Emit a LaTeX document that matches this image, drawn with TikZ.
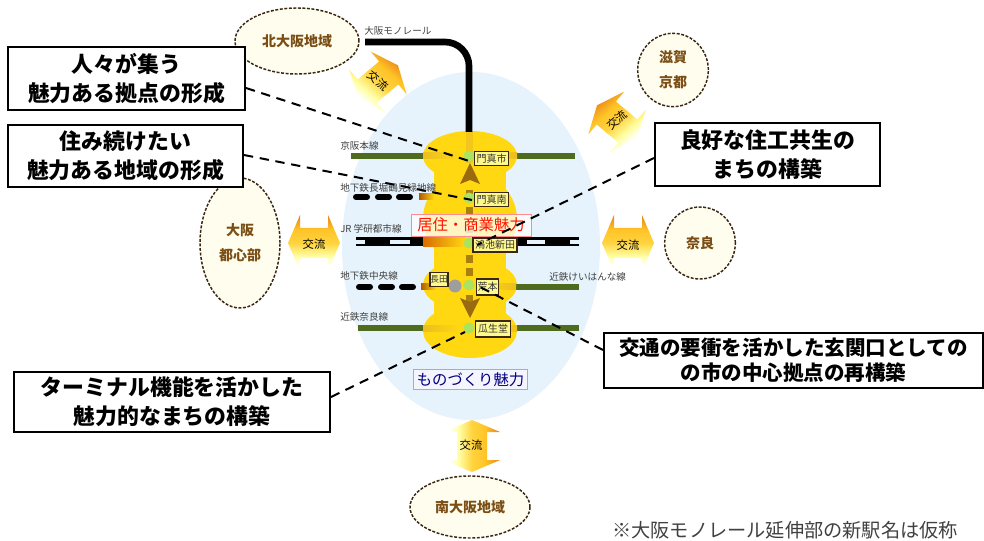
\documentclass[tikz,border=0pt]{standalone}
\usepackage{fontspec}
\setmainfont{Noto Sans CJK JP}
\usetikzlibrary{shapes.geometric}
\definecolor{skyfill}{HTML}{E6F3FC}
\definecolor{blobyellow}{HTML}{FFD812}
\definecolor{linegreen}{HTML}{4F6B1E}
\definecolor{ovalfill}{HTML}{FFFDEE}
\definecolor{ovaltext}{HTML}{7A4E14}
\definecolor{arrowbrown}{HTML}{9A6A10}
\definecolor{stationgreen}{HTML}{ABE25F}
\pgfdeclareverticalshading{koryushade}{100bp}{color(0bp)=(white); color(30bp)=(white); color(38bp)=(yellow!35); color(50bp)=(yellow!55!orange!75); color(62bp)=(orange!55!yellow!85); color(75bp)=(orange!65!brown); color(100bp)=(orange!65!brown)}
\tikzset{
	callout/.style={draw=black,line width=1.5pt,fill=white,align=center,font=\fontsize{16.4}{22}\selectfont\bfseries,inner sep=0pt},
	region/.style={ellipse,draw=black!70!brown,dash pattern=on 2.2pt off 1.2pt,line width=1.1pt,fill=ovalfill,align=center,text=ovaltext,inner sep=0pt,font=\fontsize{10.5}{19}\selectfont\bfseries},
	station/.style={draw=black!70!brown,line width=.8pt,fill=yellow!45,font=\fontsize{7.5}{8}\selectfont,inner sep=0pt,text=black!80},
	linelabel/.style={anchor=west,font=\fontsize{7.2}{8}\selectfont,text=black!75,inner sep=0pt},
	leader/.style={line width=1.5pt,dash pattern=on 7pt off 5pt},
	koryutext/.style={font=\fontsize{8.5}{9}\selectfont,inner sep=0pt},
}
% block arrow with two heads: x, y, rotation
\newcommand\koryu[3]{%
	\begin{scope}[shift={(#1,#2)},rotate=#3]
		\shade[shading=koryushade,shading angle=-#3]
			(-26,0) -- (-14,-28) -- (-14,-15) -- (14,-15) -- (14,-28) -- (26,0) -- (14,28) -- (14,15) -- (-14,15) -- (-14,28) -- cycle;
	\end{scope}
}
% rail segment that fades on the yellow
\newcommand\fadeband[5]{%
	\shade[left color=#4,right color=#5] (#1,#3-3) rectangle (#2,#3+3);
}
\begin{document}
\begin{tikzpicture}[x=0.75pt,y=-0.75pt]
	\useasboundingbox (0,0) rectangle (984,541);

	%% background
	\fill[skyfill] (471,246) ellipse (129 and 174);

	\fill[blobyellow] (470,156) ellipse (47 and 25);
	\fill[blobyellow] (470,219) ellipse (47 and 46);
	\fill[blobyellow] (470,285) ellipse (47 and 26);
	\fill[blobyellow] (470,331) ellipse (47 and 27);
	\fill[blobyellow] (434,156) rectangle (506,331);

	%% monorail
	\draw[line width=5pt] (365,42) -- (445,42) arc (-90:0:24) -- (469,132);
	\fill[blobyellow!80!brown] (466,132) rectangle (473,163);
	\foreach \y in {190,207,225,255,268,295} {
		\fill[arrowbrown!85!yellow] (466,\y) rectangle (473,\y+8);
	}
	\fill[arrowbrown] (470,163) -- (480,184) -- (470,180) -- (460,184) -- cycle;
	\fill[arrowbrown] (470,318) -- (480,298) -- (470,302) -- (460,298) -- cycle;

	%% rail lines
	\draw[linegreen,line width=4pt] (351,156) -- (423,156);
	\draw[linegreen,line width=4pt] (517,156) -- (575,156);
	\fadeband{423}{460}{156}{blobyellow!70!brown}{blobyellow}
	\fadeband{480}{517}{156}{blobyellow}{blobyellow!70!brown}

	\foreach \x in {354,376,397} {
		\draw[line width=4.5pt,line cap=round] (\x+2,197) -- (\x+13,197);
	}
	\fadeband{419}{434}{197}{orange!70!black}{blobyellow}

	\fill (356,237.5) rectangle (423,240);
	\fill (356,244) rectangle (423,246.5);
	\fill (365,237.5) rectangle (390,246.5);
	\fill (410,237.5) rectangle (423,246.5);
	\fill (517,237.5) rectangle (579,240);
	\fill (517,244) rectangle (579,246.5);
	\fill (517,237.5) rectangle (527,246.5);
	\fill (545,237.5) rectangle (570,246.5);
	\shade[left color=orange!85!black,right color=blobyellow] (423,237.5) rectangle (465,246.5);

	\foreach \x in {357,379,400} {
		\draw[line width=4.5pt,line cap=round] (\x+2,287) -- (\x+13,287);
	}
	\fadeband{421}{436}{287}{orange!70!black}{blobyellow}
	\draw[linegreen,line width=4pt] (516,287) -- (579,287);
	\fadeband{478}{516}{287}{blobyellow}{blobyellow!70!brown}

	\draw[linegreen,line width=4pt] (358,328) -- (423,328);
	\draw[linegreen,line width=4pt] (517,328) -- (579,328);
	\fadeband{423}{460}{328}{blobyellow!70!brown}{blobyellow}
	\fadeband{500}{517}{328}{blobyellow}{blobyellow!70!brown}

	%% stations
	\foreach \y in {156,198,243,285,328} {
		\fill[stationgreen] (469,\y) circle (5.5);
	}
	\fill[black!38] (455,286) circle (6.5);

	\node[station,minimum width=26pt,minimum height=11pt] (monma) at (491.5,158.5) {門真市};
	\node[station,minimum width=26pt,minimum height=10pt] (monmaminami) at (491.5,199.5) {門真南};
	\node[station,minimum width=33pt,minimum height=10.5pt] (konoike) at (495,245) {鴻池新田};
	\node[station,minimum width=17pt,minimum height=12pt] (aramoto) at (487.5,287) {荒本};
	\node[station,minimum width=26pt,minimum height=12pt] (uryudo) at (493,329) {瓜生堂};
	\node[station,minimum width=13.5pt,minimum height=10pt,font=\fontsize{6.5}{7}\selectfont] (nagata) at (439,279.5) {長田};

	%% line names
	\node[linelabel] (lblKeihan) at (340,146) {京阪本線};
	\node[linelabel] (lblTsurumi) at (340,188) {地下鉄長堀鶴見緑地線};
	\node[linelabel] (lblJR) at (340,229) {JR 学研都市線};
	\node[linelabel] (lblChuo) at (340,276) {地下鉄中央線};
	\node[linelabel] (lblKeihanna) at (549,277) {近鉄けいはんな線};
	\node[linelabel] (lblNara) at (340,317) {近鉄奈良線};
	\node[linelabel] (lblMono) at (364,31) {大阪モノレール};

	%% attraction labels
	\node[draw=red!45,line width=.6pt,fill=white,fill opacity=.75,text opacity=1,minimum width=90pt,minimum height=16.5pt,inner sep=0pt,text=red!85!orange,font=\fontsize{11.5}{12}\selectfont] (living) at (471,225) {居住・商業魅力};
	\node[draw=black!30!blue!35,line width=.8pt,fill=blue!4,minimum width=85pt,minimum height=15.5pt,inner sep=0pt,text=blue!50!black,font=\fontsize{11.5}{12}\selectfont] (making) at (470.5,379.5) {ものづくり魅力};

	%% neighbouring regions
	\node[region,minimum width=93pt,minimum height=49.5pt] (kita) at (297,41) {北大阪地域};
	\node[region,minimum width=60pt,minimum height=97.5pt] (toshin) at (240,243) {大阪\\都心部};
	\node[region,minimum width=53pt,minimum height=55pt] (shiga) at (673,70) {滋賀\\京都};
	\node[region,minimum width=53pt,minimum height=54pt] (nara) at (700,243) {奈良};
	\node[region,minimum width=90pt,minimum height=46.5pt] (minami) at (470,507) {南大阪地域};

	\koryu{378}{82}{40}
	\koryu{617}{122}{-40}
	\koryu{314}{243}{0}
	\koryu{628}{243}{0}
	\koryu{472}{446}{90}

	\node[koryutext,rotate=-40] (koryuA) at (378,81) {交流};
	\node[koryutext,rotate=40] (koryuB) at (617,120) {交流};
	\node[koryutext] (koryuC) at (314,244) {交流};
	\node[koryutext] (koryuD) at (628,245) {交流};
	\node[koryutext] (koryuE) at (471,445) {交流};

	%% callouts
	\node[callout,minimum width=177.75pt,minimum height=47.25pt] (boxGather) at (126.5,78.5) {人々が集う\\魅力ある拠点の形成};
	\node[callout,minimum width=176.25pt,minimum height=46.5pt] (boxLive) at (125.5,156) {住み続けたい\\魅力ある地域の形成};
	\node[callout,minimum width=168.75pt,minimum height=47.25pt] (boxWork) at (767.5,154.5) {良好な住工共生の\\まちの構築};
	\node[callout,minimum width=284.25pt,minimum height=41.25pt,font=\fontsize{15.4}{19}\selectfont\bfseries] (boxGate) at (793.5,360.5) {交通の要衝を活かした玄関口としての\\の市の中心拠点の再構築};
	\node[callout,minimum width=237pt,minimum height=45pt] (boxTerminal) at (172,402) {ターミナル機能を活かした\\魅力的なまちの構築};

	\coordinate (startGather) at (boxGather.east |- 0,88);
	\coordinate (startLive) at (boxLive.east |- 0,155);
	\coordinate (startWork) at (boxWork.west |- 0,158);
	\coordinate (startGate) at (boxGate.west |- 0,350);
	\coordinate (startTerminal) at (boxTerminal.east |- 0,397);
	\coordinate (endGather) at (472,162);
	\coordinate (endLive) at (472,200);
	\coordinate (endWork) at (477,245);
	\coordinate (endGate) at (480,287);
	\coordinate (endTerminal) at (465,332);

	\draw[leader] (startGather) -- (endGather);
	\draw[leader] (startLive) -- (endLive);
	\draw[leader] (startWork) -- (endWork);
	\draw[leader] (startGate) -- (endGate);
	\draw[leader] (startTerminal) -- (endTerminal);

	\node[anchor=west,inner sep=0pt,text=black!75,font=\fontsize{14.4}{15}\selectfont] (note) at (612,530) {※大阪モノレール延伸部の新駅名は仮称};
\end{tikzpicture}
\end{document}
